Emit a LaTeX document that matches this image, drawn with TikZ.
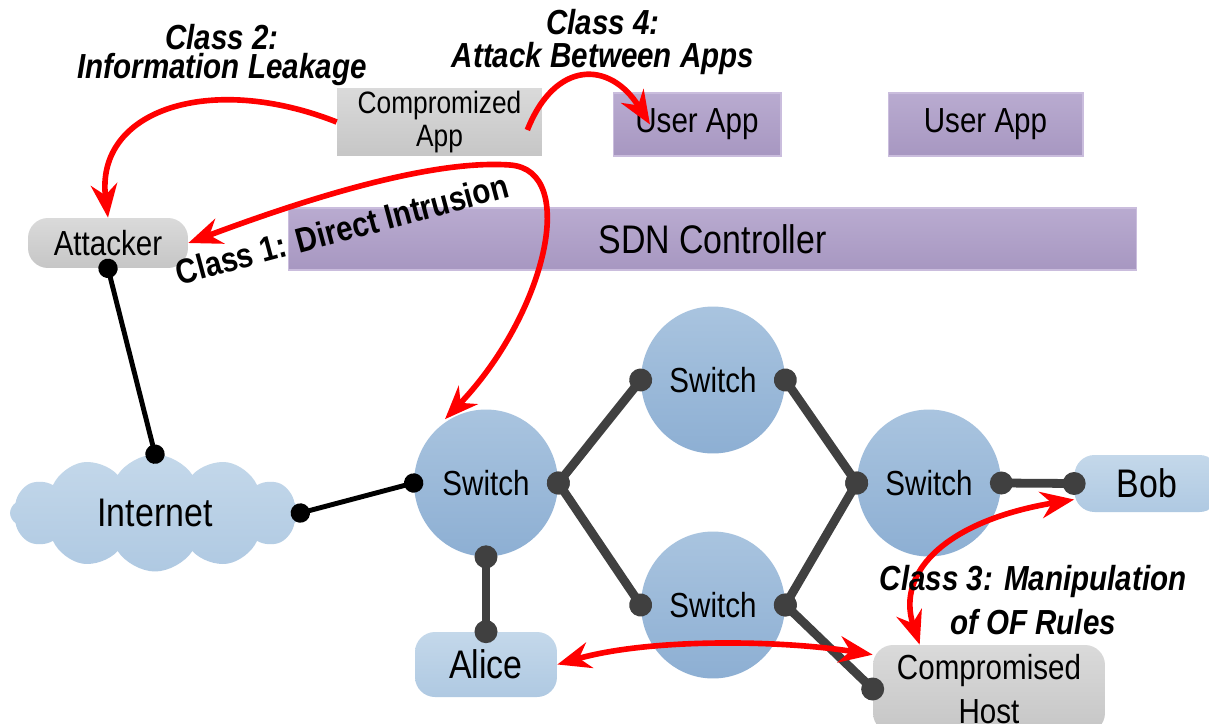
\documentclass[tikz,border=0pt]{standalone}
\usepackage{fontspec}
\newfontfamily\nar{Liberation Sans}[FakeStretch=0.85]
\usetikzlibrary{shapes.geometric,shapes.symbols,arrows.meta,backgrounds}
\definecolor{purT}{HTML}{B9ABD0}
\definecolor{purB}{HTML}{A797C1}
\definecolor{purE}{HTML}{CABDDD}
\definecolor{gryT}{HTML}{DADADA}
\definecolor{gryB}{HTML}{C6C6C6}
\definecolor{bluT}{HTML}{C4D8EA}
\definecolor{bluB}{HTML}{AFC9E2}
\definecolor{swT}{HTML}{A9C4DF}
\definecolor{swB}{HTML}{8DAFD3}
\definecolor{ctrl}{HTML}{A6A6A6}
\definecolor{dark}{HTML}{404040}
\begin{document}
\begin{tikzpicture}[x=0.02cm,y=-0.02cm,
  box/.style={rectangle, inner sep=0pt, align=center, font=\nar\fontsize{19.8}{22}\selectfont},
  purbox/.style={box, top color=purT, bottom color=purB, draw=purE, line width=0.6pt},
  graybox/.style={box, top color=gryT, bottom color=gryB},
  bluebox/.style={box, top color=bluT, bottom color=bluB, rounded corners=4mm},
  swnode/.style={ellipse, inner sep=0pt, minimum width=28.8mm, minimum height=29.4mm,
    top color=swT, bottom color=swB, font=\nar\fontsize{19.8}{22}\selectfont},
  ctrlline/.style={draw=ctrl, line width=5.5pt},
  link/.style={draw=dark, line width=5pt, {Circle[length=13pt]}-{Circle[length=13pt]},
    shorten <=-6.5pt, shorten >=-6.5pt},
  blink/.style={draw=black, line width=2.8pt, {Circle[length=11pt]}-{Circle[length=11pt]},
    shorten <=-5.5pt, shorten >=-5.5pt},
  attack/.style={draw=red, line width=3.2pt, -{Stealth[length=19pt,width=15pt]}},
  attacktwo/.style={draw=red, line width=3.2pt,
    {Stealth[length=19pt,width=15pt]}-{Stealth[length=19pt,width=15pt]}},
  lbl/.style={align=center, inner sep=0pt, font=\nar\bfseries\itshape\fontsize{19.8}{17}\selectfont},
]
\useasboundingbox (0,0) rectangle (1209,723);
\clip (0,0) rectangle (1209,723);
\fill[white] (0,0) rectangle (1209,723);

% nodes
\node[graybox, minimum width=41mm, minimum height=13.6mm,
  font=\nar\fontsize{17.6}{18.7}\selectfont] (capp) at (439.5,122) {Compromized\\App};
\node[purbox, minimum width=33.6mm, minimum height=12.6mm] (uapp1) at (697,124.5) {User App};
\node[purbox, minimum width=39mm, minimum height=12.6mm] (uapp2) at (985.5,124.5) {User App};
\node[purbox, minimum width=169.8mm, minimum height=12.4mm,
  font=\nar\fontsize{22.7}{24}\selectfont] (sdn) at (712.5,239) {SDN Controller};
\node[graybox, rounded corners=4mm, minimum width=32mm, minimum height=10mm] (att) at (108,243) {Attacker};
\node[cloud, cloud puffs=12, cloud puff arc=115, aspect=2.4, inner sep=0pt,
  minimum width=58mm, minimum height=23.4mm, top color=bluT, bottom color=bluB,
  font=\nar\fontsize{22.7}{24}\selectfont] (inet) at (155,513) {Internet};
\node[swnode] (sw1) at (486,483) {Switch};
\node[swnode] (sw2) at (713,380) {Switch};
\node[swnode] (sw3) at (713,605) {Switch};
\node[swnode] (sw4) at (929,483) {Switch};
\node[bluebox, minimum width=29mm, minimum height=11.4mm,
  font=\nar\fontsize{22.7}{24}\selectfont] (bob) at (1147,483.5) {Bob};
\node[bluebox, minimum width=28.4mm, minimum height=13mm,
  font=\nar\fontsize{22.7}{24}\selectfont] (alice) at (486,664.5) {Alice};
\node[graybox, rounded corners=4mm, minimum width=46.4mm, minimum height=17.6mm,
  font=\nar\fontsize{19.8}{25}\selectfont] (host) at (989,689) {Compromised\\Host};

% controller links
\begin{scope}[on background layer]
\draw[ctrlline] (capp.south) -- (capp.south |- sdn.north);
\draw[ctrlline] (uapp1.south -| sw2.north) -- (sdn.north -| sw2.north);
\draw[ctrlline] (uapp2.south) -- (uapp2.south |- sdn.north);
\draw[ctrlline] (sdn.south -| sw1.north) -- (sw1.north);
\draw[ctrlline] (sdn.south -| sw2.north) -- (sw2.north);
\draw[ctrlline] (sdn.south -| sw4.north) -- (sw4.north);
\end{scope}

% data links
\draw[blink] (att.south) -- (inet.north);
\draw[blink] (inet.east) -- (sw1.west);
\draw[link] (sw1.east) -- (sw2.west);
\draw[link] (sw1.east) -- (sw3.west);
\draw[link] (sw2.east) -- (sw4.west);
\draw[link] (sw3.east) -- (sw4.west);
\draw[link] (sw3.east) -- (host.west);
\draw[link] (sw4.east) -- (bob.west);
\draw[link] (sw1.south) -- (alice.north);

% attacks
\draw[attack] (capp.west) .. controls (210,72) and (95,110) .. (att.north);
\draw[attack] ([xshift=-3mm,yshift=-1.6mm]capp.east) .. controls (555,60) and (610,60) .. ([xshift=7.5mm]uapp1.west);
\draw[attacktwo] (att.east) .. controls (330,190) and (440,160) .. (510,165)
  .. controls (580,170) and (545,315) .. ([xshift=-8.2mm,yshift=-2mm]sw1.north);
\draw[attacktwo] (alice.east) .. controls (650,638) and (780,640) .. ([yshift=-2mm]host.north west);
\draw[attacktwo] ([yshift=-3.2mm]bob.west) .. controls (950,520) and (895,570) .. ([xshift=9.4mm]host.north west);

% labels
\node[lbl] (l2) at (222,55) {Class 2:\\Information Leakage};
\node[lbl, font=\nar\bfseries\itshape\fontsize{19.8}{18.7}\selectfont] (l4) at (603,42) {Class 4:\\Attack Between Apps};
\node[lbl, rotate=15, font=\nar\bfseries\fontsize{19.8}{22}\selectfont] (l1) at (342,229) {Class 1: Direct Intrusion};
\node[lbl, font=\nar\bfseries\itshape\fontsize{19.8}{25}\selectfont] (l3) at (1033,600) {Class 3: Manipulation\\of OF Rules};
\end{tikzpicture}
\end{document}
